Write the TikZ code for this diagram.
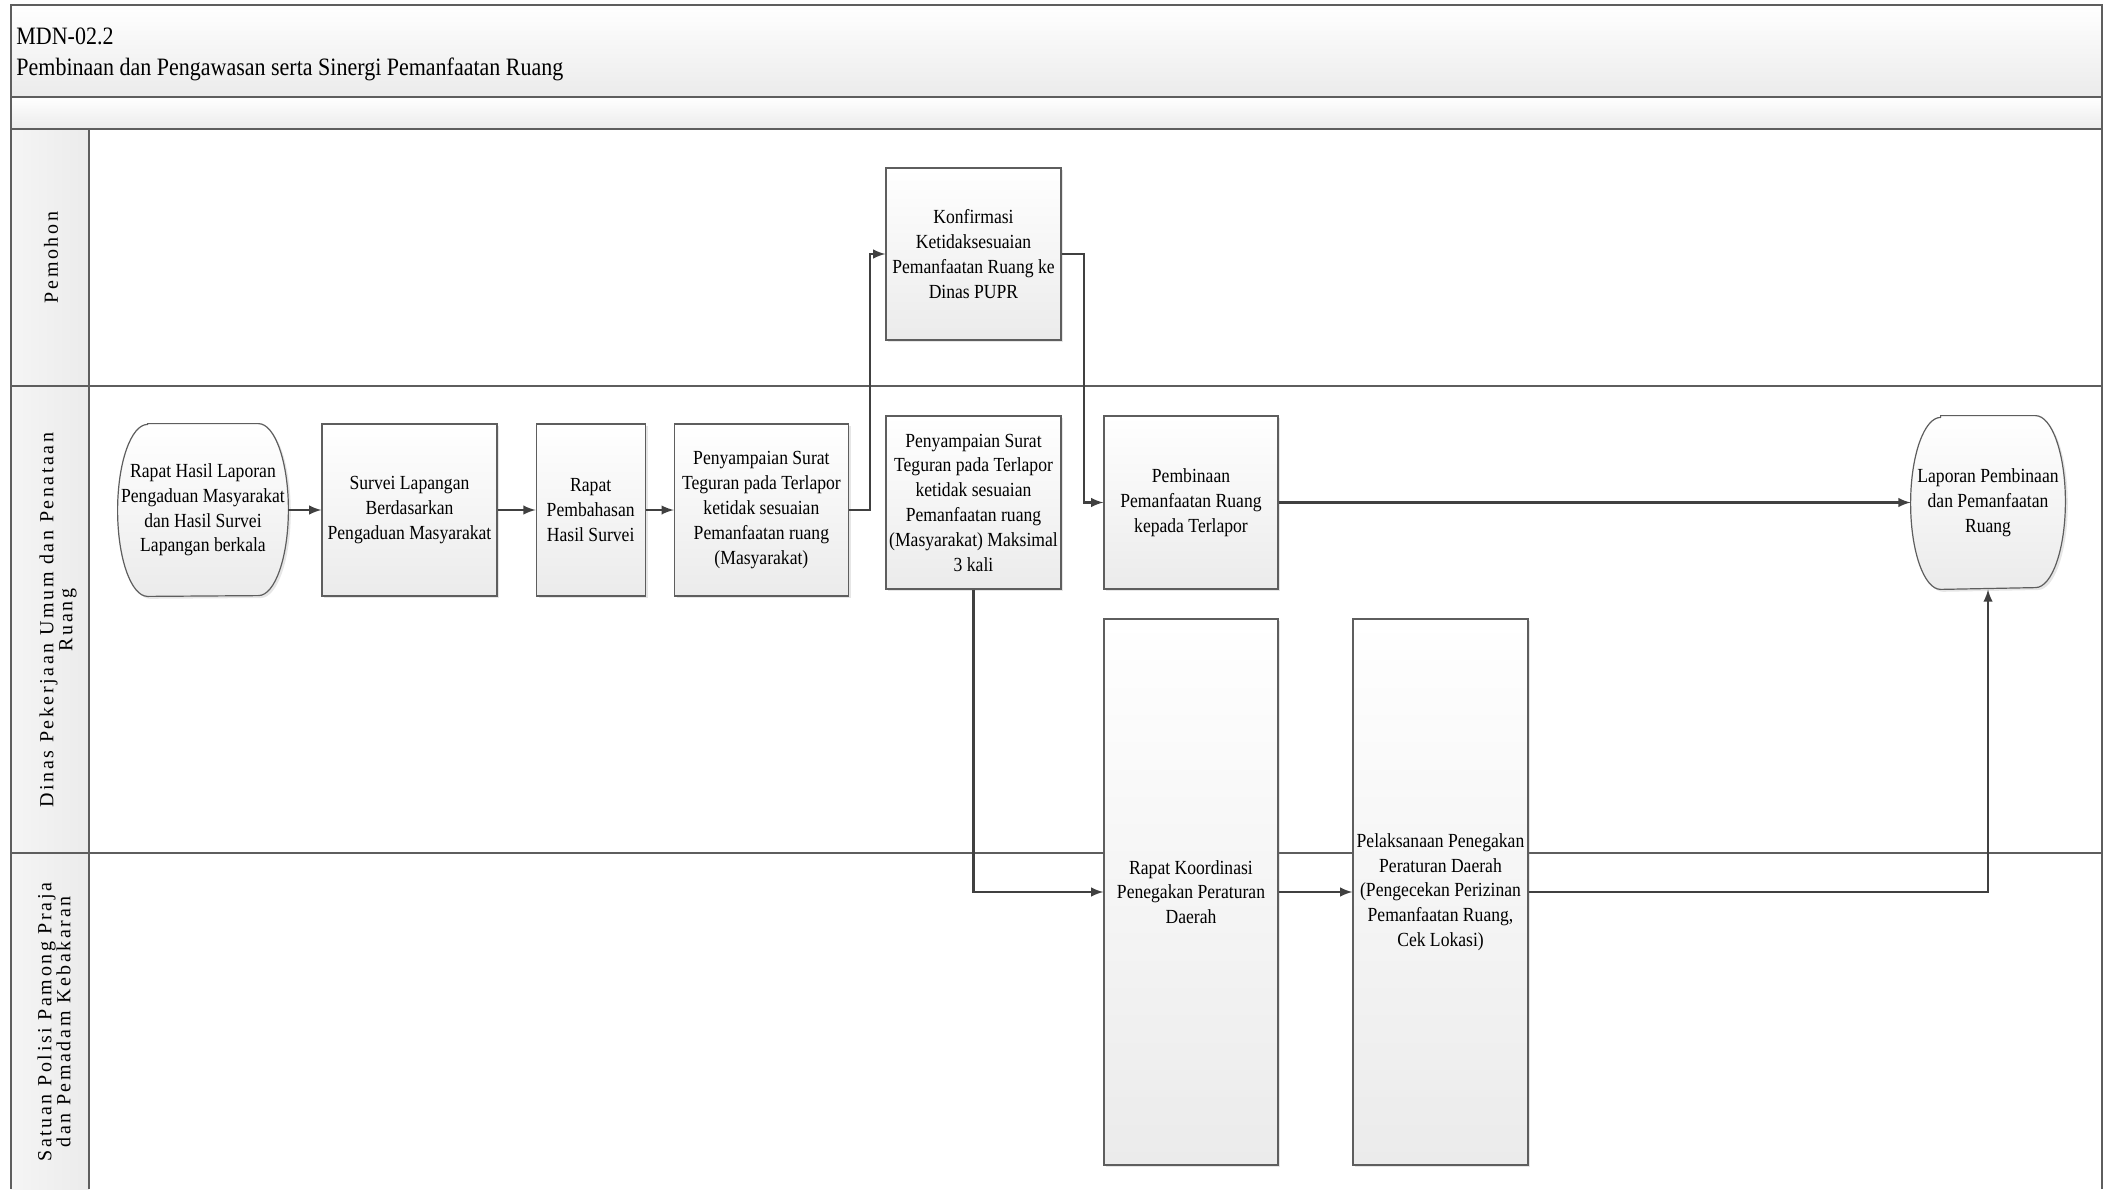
\documentclass[tikz,border=0pt]{standalone}
\usepackage{fontspec}
\setmainfont{Liberation Serif}[FakeStretch=0.88]
\newfontfamily\lanefont{Liberation Serif}[LetterSpace=13]
\usepackage{tikz}
\usetikzlibrary{shapes.geometric, arrows, positioning, calc, shadows, backgrounds}

\definecolor{framegray}{HTML}{5E5E5E}
\definecolor{flowgray}{HTML}{404040}
\definecolor{boxbottom}{HTML}{EBEBEB}

\begin{document}
\begin{tikzpicture}[x=0.5pt, y=-0.5pt, >=latex, font=\fontsize{10}{12.4}\selectfont]
    % Styles
    \tikzstyle{process} = [rectangle, draw=framegray, line width=0.6pt, top color=white, bottom color=boxbottom,
                          align=center, inner sep=1pt, minimum width=87pt, minimum height=86pt,
                          drop shadow={shadow xshift=1.2pt, shadow yshift=-1.2pt, opacity=0.2}]
    \tikzstyle{terminal} = [rectangle, align=center, inner sep=1pt, minimum width=85pt, minimum height=86pt]
    \tikzstyle{termline} = [draw=framegray, line width=0.6pt, top color=white, bottom color=boxbottom,
                           drop shadow={shadow xshift=1.2pt, shadow yshift=-1.2pt, opacity=0.2}]
    \tikzstyle{lane} = [rotate=90, align=center, font=\lanefont\fontsize{10}{9.5}\selectfont]
    \tikzstyle{grid} = [draw=framegray, line width=0.8pt]
    \tikzstyle{flow} = [draw=flowgray, line width=1.1pt, ->]

    \useasboundingbox (0,0) rectangle (2109,1189);

    % Pool and lanes
    \fill[top color=white, bottom color=boxbottom] (11,5) rectangle (2102,97);
    \fill[top color=white, bottom color=boxbottom] (11,97) rectangle (2102,129);
    \fill[left color=boxbottom!50, right color=boxbottom] (11,129) rectangle (89,1189);
    \draw[grid] (11,1189) -- (11,5) -- (2102,5) -- (2102,1189);
    \foreach \y in {97,129,386,853}
        \draw[grid] (11,\y) -- (2102,\y);
    \draw[grid] (89,129) -- (89,1189);

    \node[anchor=base west, inner sep=0pt] (code) at (16,44) {\fontsize{12.5}{16}\selectfont MDN-02.2};
    \node[anchor=base west, inner sep=0pt] (title) at (16,75)
        {\fontsize{12.5}{16}\selectfont Pembinaan dan Pengawasan serta Sinergi Pemanfaatan Ruang};

    \node[lane] (pemohon) at (51,257.5) {Pemohon};
    \node[lane] (dinas) at (58,620) {Dinas Pekerjaan Umum dan Penataan\\Ruang};
    \node[lane] (satpol) at (54,1022) {Satuan Polisi Pamong Praja\\dan Pemadam Kebakaran};

    % Nodes
    \node[terminal] (start) at (203,510) {Rapat Hasil Laporan\\Pengaduan Masyarakat\\dan Hasil Survei\\Lapangan berkala};
    \node[process, right=16.5pt of start, minimum width=87.5pt] (survei) {Survei Lapangan\\Berdasarkan\\Pengaduan Masyarakat};
    \node[process, right=19pt of survei, minimum width=54.5pt] (rapat) {Rapat\\Pembahasan\\Hasil Survei};
    \node[process, right=14pt of rapat] (teguran1) {Penyampaian Surat\\Teguran pada Terlapor\\ketidak sesuaian\\Pemanfaatan ruang\\(Masyarakat)};
    \node[process, minimum width=87.5pt] (konfirmasi) at (973.5,254) {Konfirmasi\\Ketidaksesuaian\\Pemanfaatan Ruang ke\\Dinas PUPR};
    \node[process, minimum width=87.5pt, minimum height=86.5pt] (teguran2) at (973.5,502.5) {Penyampaian Surat\\Teguran pada Terlapor\\ketidak sesuaian\\Pemanfaatan ruang\\(Masyarakat) Maksimal\\3 kali};
    \node[process, minimum height=86.5pt] (pembinaan) at (1191,502.5) {Pembinaan\\Pemanfaatan Ruang\\kepada Terlapor};
    \node[terminal, minimum width=77pt, minimum height=86.5pt] (laporan) at (1988,502.5) {Laporan Pembinaan\\dan Pemanfaatan\\Ruang};
    \node[process, minimum height=273pt] (koordinasi) at (1191,892) {Rapat Koordinasi\\Penegakan Peraturan\\Daerah};
    \node[process, minimum width=87.5pt, minimum height=273pt] (pelaksanaan) at (1440.5,892) {Pelaksanaan Penegakan\\Peraturan Daerah\\(Pengecekan Perizinan\\Pemanfaatan Ruang,\\Cek Lokasi)};

    \begin{pgfonlayer}{background}
        \foreach \t in {start, laporan}
            \draw[termline] ($(\t.north west)+(15pt,0)$) -- ($(\t.north east)+(-15pt,0)$)
                arc[start angle=90, end angle=-90, x radius=15pt, y radius=43pt]
                -- ($(\t.south west)+(15pt,0)$)
                arc[start angle=270, end angle=90, x radius=15pt, y radius=43pt] -- cycle;
    \end{pgfonlayer}

    % Connections
    \draw[flow] (start) -- (survei);
    \draw[flow] (survei) -- (rapat);
    \draw[flow] (rapat) -- (teguran1);
    \draw[flow] (teguran1.east) -- ++(21,0) |- (konfirmasi.west);
    \draw[flow] (konfirmasi.east) -- ++(22,0) |- (pembinaan.west);
    \draw[flow] (pembinaan) -- (laporan);
    \draw[flow] (teguran2.south) |- (koordinasi.west);
    \draw[flow] (koordinasi) -- (pelaksanaan);
    \draw[flow] (pelaksanaan.east) -| (laporan.south);
\end{tikzpicture}
\end{document}
